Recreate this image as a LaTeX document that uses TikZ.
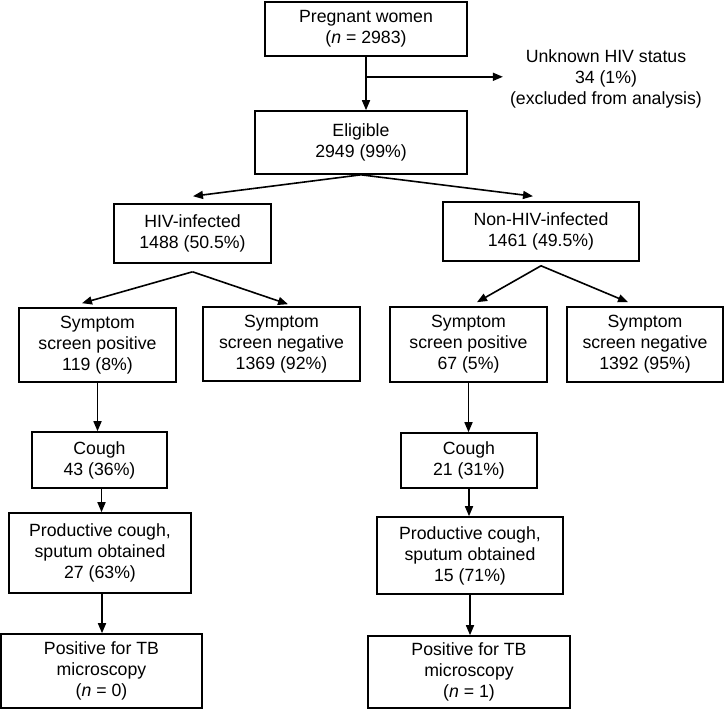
\documentclass[tikz,border=0pt]{standalone}
\usepackage{fontspec}
\setmainfont{Liberation Sans}
\usetikzlibrary{arrows.meta,calc}

\begin{document}
\begin{tikzpicture}[x=1pt,y=-1pt,font=\fontsize{17.7}{21}\selectfont,>={Triangle[length=10pt,width=8pt]},
  box/.style={draw,line width=1.6pt,align=center,inner sep=2pt},
  arr/.style={->,line width=1.6pt}]
  \useasboundingbox (0,0) rectangle (725,709);
  \node[box,minimum width=202pt,minimum height=54pt] (preg) at (366,29) {Pregnant women\\(\textit{n} = 2983)};
  \node[box,minimum width=212pt,minimum height=63pt] (elig) at (361,142.5) {Eligible\\2949 (99\%)};
  \node[align=center,inner sep=7pt] (excl) at (606,79) {Unknown HIV status\\34 (1\%)\\(excluded from analysis)};
  \node[box,minimum width=157pt,minimum height=59pt] (hiv) at (192.5,233.5) {HIV-infected\\1488 (50.5\%)};
  \node[box,minimum width=196pt,minimum height=59pt] (nonhiv) at (541,231.5) {Non-HIV-infected\\1461 (49.5\%)};
  \node[box,minimum width=157pt,minimum height=74pt] (hivpos) at (97.5,345) {Symptom\\screen positive\\119 (8\%)};
  \node[box,minimum width=157pt,minimum height=74pt] (hivneg) at (281.5,344) {Symptom\\screen negative\\1369 (92\%)};
  \node[box,minimum width=157pt,minimum height=75pt] (nonpos) at (468.5,344.5) {Symptom\\screen positive\\67 (5\%)};
  \node[box,minimum width=156pt,minimum height=75pt] (nonneg) at (645,344.5) {Symptom\\screen negative\\1392 (95\%)};
  \node[box,minimum width=135pt,minimum height=56pt] (hivcough) at (99.5,460) {Cough\\43 (36\%)};
  \node[box,minimum width=136pt,minimum height=55pt] (noncough) at (469,460.5) {Cough\\21 (31\%)};
  \node[box,minimum width=182pt,minimum height=80pt] (hivprod) at (100,553) {Productive cough,\\sputum obtained\\27 (63\%)};
  \node[box,minimum width=186pt,minimum height=77pt] (nonprod) at (470,555.5) {Productive cough,\\sputum obtained\\15 (71\%)};
  \node[box,minimum width=201pt,minimum height=74pt] (hivtb) at (101.5,671) {Positive for TB\\microscopy\\(\textit{n} = 0)};
  \node[box,minimum width=202pt,minimum height=72pt] (nontb) at (469,672) {Positive for TB\\microscopy\\(\textit{n} = 1)};
  \coordinate (br) at ($(preg.south)+(0,20)$);
  \coordinate (hivtop) at ($(hiv.south)+(0,8)$);
  \coordinate (nontop) at ($(nonhiv.south)+(0,4)$);
  \draw[arr] (preg.south) -- (preg.south |- elig.north);
  \draw[arr] (br) -- (excl.west |- br);
  \draw[arr] (elig.south) -- ($(hiv.north)+(0.5,-7)$);
  \draw[arr] (elig.south) -- ($(nonhiv.north)+(-8,-5)$);
  \draw[arr] (hivtop) -- ($(hivpos.north)+(-15.5,-4)$);
  \draw[arr] (hivtop) -- ($(hivneg.north)+(6.5,-2)$);
  \draw[arr] (nontop) -- ($(nonpos.north)+(8.5,-4)$);
  \draw[arr] (nontop) -- ($(nonneg.north)+(-17,-4)$);
  \draw[arr] (hivpos.south) -- (hivpos.south |- hivcough.north);
  \draw[arr] (nonpos.south) -- (nonpos.south |- noncough.north);
  \draw[arr] ($(hivcough.south)+(2,0)$) -- ($(hivcough.south |- hivprod.north)+(2,0)$);
  \draw[arr] (noncough.south) -- (noncough.south |- nonprod.north);
  \draw[arr] ($(hivprod.south)+(2,0)$) -- ($(hivprod.south |- hivtb.north)+(2,0)$);
  \draw[arr] (nonprod.south) -- (nonprod.south |- nontb.north);
\end{tikzpicture}
\end{document}
